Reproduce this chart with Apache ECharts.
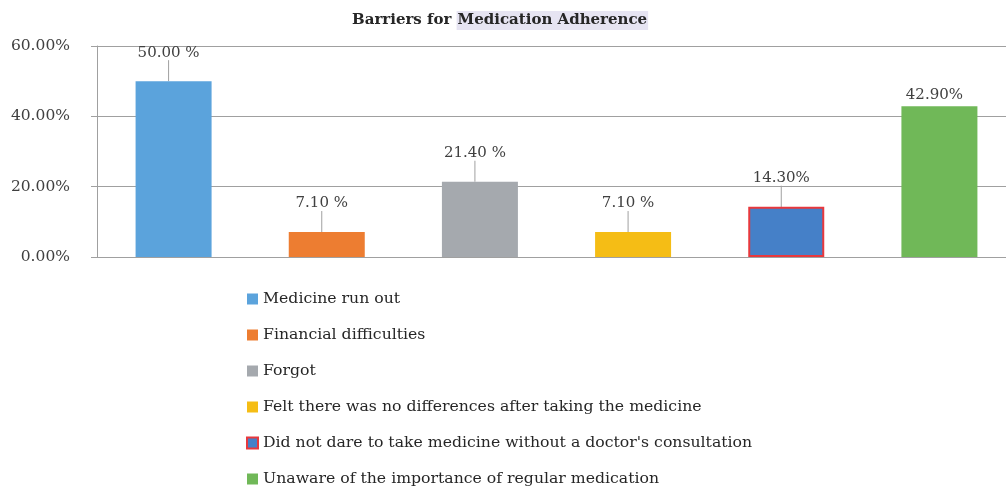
<!DOCTYPE html>
<html><head><meta charset="utf-8">
<script src="https://cdn.jsdelivr.net/npm/echarts@6/dist/echarts.min.js"></script>
<style>html,body{margin:0;padding:0;background:#fff}#c{width:1006px;height:489px}</style>
</head><body><div id="c"></div>
<script>
var categories = ["Medicine run out","Financial difficulties","Forgot","Felt there was no differences after taking the medicine","Did not dare to take medicine without a doctor's consultation","Unaware of the importance of regular medication"];
var values = [50.0, 7.1, 21.4, 7.1, 14.3, 42.9];
var valueLabels = ["50.00 %","7.10 %","21.40 %","7.10 %","14.30%","42.90%"];
var yTicks = [0, 20, 40, 60];
var colors = ["#5ba3dc","#ed7d31","#a5a9ae","#f5bd15","#4580c8","#70b858"];

var FONT = "DejaVu Serif";
var series = categories.map(function(name, i){
  var data = categories.map(function(_, j){ return j === i ? values[i] : '-'; });
  var s = {
    name: name, type: 'bar', stack: 'all', barWidth: 76, data: data,
    itemStyle: {color: colors[i]},
    label: {show: true, position: 'top', distance: 4, formatter: function(){ return valueLabels[i]; },
      fontFamily: FONT, fontSize: 15, color: '#404040'},
    labelLayout: {dy: i === 5 ? 0 : -17, dx: -5},
    labelLine: {show: i !== 5, lineStyle: {color: '#a0a0a0', width: 1}}
  };
  if (i === 4) { s.itemStyle.borderColor = '#e8383d'; s.itemStyle.borderWidth = 2; }
  return s;
});

var chart = echarts.init(document.getElementById('c'));
chart.setOption({
  animation: false,
  title: {
    text: '{a|Barriers for }{b|Medication Adherence}',
    left: 347, top: 6,
    textStyle: {rich: {
      a: {fontFamily: FONT, fontWeight: 'bold', fontSize: 15, color: '#262626'},
      b: {fontFamily: FONT, fontWeight: 'bold', fontSize: 15, color: '#262626', backgroundColor: '#e6e4f2', padding: [2,1,2,1]}
    }}
  },
  grid: {left: 97, width: 919, top: 46, height: 211, containLabel: false, outerBoundsMode: 'none'},
  xAxis: {type: 'category', data: categories,
    axisLine: {show: true, lineStyle: {color: '#a0a0a0'}},
    axisTick: {show: false}, axisLabel: {show: false}},
  yAxis: {type: 'value', min: 0, max: 60, interval: 20,
    axisLine: {show: true, lineStyle: {color: '#a0a0a0'}},
    axisTick: {show: true, length: 6, lineStyle: {color: '#a0a0a0'}},
    splitLine: {lineStyle: {color: '#a0a0a0'}},
    axisLabel: {formatter: function(v){ return v.toFixed(2) + '%'; }, fontFamily: FONT, fontSize: 15.5, color: '#404040', margin: 27}},
  legend: {orient: 'vertical', left: 246, top: 291, height: 198, padding: 0, itemGap: 20, itemWidth: 11, itemHeight: 11,
    icon: 'rect',
    textStyle: {fontFamily: FONT, fontSize: 15.7, color: '#262626'},
    data: categories},
  series: series
});
</script></body></html>
